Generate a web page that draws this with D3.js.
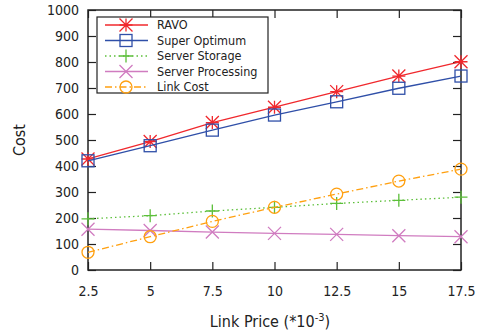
<!DOCTYPE html>
<html>
<head>
<meta charset="utf-8">
<script src="https://cdn.jsdelivr.net/npm/d3@7"></script>
<style>
  body { margin: 0; background: #fff; }
  text { font-family: "DejaVu Sans Condensed", "DejaVu Sans", sans-serif; font-stretch: condensed; fill: #222; }
</style>
</head>
<body>
<div id="chart"></div>
<script>
'use strict';

// the data
var linkPrice = [2.5, 5, 7.5, 10, 12.5, 15, 17.5];
var ravo = [427, 494, 567, 626, 686, 746, 801];
var superOptimum = [420, 478, 538, 596, 647, 699, 746];
var serverStorage = [197, 209, 227, 241, 256, 268, 280];
var serverProcessing = [157, 152, 146, 141, 137, 132, 128];
var linkCost = [68, 128, 187, 241, 292, 342, 388];
var yTicks = [0, 100, 200, 300, 400, 500, 600, 700, 800, 900, 1000];

var series = [
    {name: 'RAVO', values: ravo, color: '#f0282d', dash: null, marker: 'star'},
    {name: 'Super Optimum', values: superOptimum, color: '#2f4fa8', dash: null, marker: 'square'},
    {name: 'Server Storage', values: serverStorage, color: '#5cbf3a', dash: '1.5,3', marker: 'plus'},
    {name: 'Server Processing', values: serverProcessing, color: '#d07cc0', dash: null, marker: 'cross'},
    {name: 'Link Cost', values: linkCost, color: '#ffa010', dash: '7,3,1.5,3', marker: 'circle'}
];

var margin = {top: 10, right: 23, bottom: 65, left: 88},
    width = 484 - margin.left - margin.right,
    height = 335 - margin.top - margin.bottom;

// set the ranges
var x = d3.scaleLinear().domain([2.5, 17.5]).range([0, width]);
var y = d3.scaleLinear().domain([0, 1000]).range([height, 0]);

var svg = d3.select('#chart')
    .append('svg')
    .attr('width', 484)
    .attr('height', 335);

var vis = svg.append('g')
    .attr('transform', 'translate(' + margin.left + ',' + margin.top + ')');

// axes with inward ticks, mirrored on top and right
var axisStyle = function (g) {
    g.select('.domain').remove();
    g.selectAll('.tick line').attr('stroke', '#222').attr('stroke-width', 1.2);
    g.selectAll('.tick text').style('font-size', '14px').attr('fill', '#222');
};

vis.append('g')
    .attr('transform', 'translate(0,' + height + ')')
    .call(d3.axisBottom(x).tickValues(linkPrice).tickFormat(d3.format('')).tickSizeInner(-8).tickPadding(16))
    .call(axisStyle);

vis.append('g')
    .call(d3.axisLeft(y).tickValues(yTicks).tickFormat(d3.format('d')).tickSizeInner(-8).tickPadding(9))
    .call(axisStyle);

vis.append('g')
    .call(d3.axisTop(x).tickValues(linkPrice).tickSizeInner(-8).tickFormat(''))
    .call(axisStyle);

vis.append('g')
    .attr('transform', 'translate(' + width + ',0)')
    .call(d3.axisRight(y).tickValues(yTicks).tickSizeInner(-8).tickFormat(''))
    .call(axisStyle);

// border
vis.append('rect')
    .attr('width', width)
    .attr('height', height)
    .attr('fill', 'none')
    .attr('stroke', '#222')
    .attr('stroke-width', 1.5);

var drawMarker = function (g, type, color) {
    var s = 6.5;
    if (type === 'star') {
        g.append('path').attr('d', 'M' + (-s) + ',0H' + s + 'M0,' + (-s) + 'V' + s +
            'M' + (-s) + ',' + (-s) + 'L' + s + ',' + s + 'M' + (-s) + ',' + s + 'L' + s + ',' + (-s))
            .attr('stroke', color).attr('stroke-width', 1.3).attr('fill', 'none');
    } else if (type === 'square') {
        g.append('rect').attr('x', -6).attr('y', -6).attr('width', 12).attr('height', 12)
            .attr('stroke', color).attr('stroke-width', 1.3).attr('fill', 'none');
    } else if (type === 'plus') {
        g.append('path').attr('d', 'M' + (-s) + ',0H' + s + 'M0,' + (-s) + 'V' + s)
            .attr('stroke', color).attr('stroke-width', 1.3).attr('fill', 'none');
    } else if (type === 'cross') {
        g.append('path').attr('d', 'M' + (-s) + ',' + (-s) + 'L' + s + ',' + s + 'M' + (-s) + ',' + s + 'L' + s + ',' + (-s))
            .attr('stroke', color).attr('stroke-width', 1.3).attr('fill', 'none');
    } else if (type === 'circle') {
        g.append('circle').attr('r', 6)
            .attr('stroke', color).attr('stroke-width', 1.3).attr('fill', 'none');
    }
};

var valueline = d3.line()
    .x(function(d, i) { return x(linkPrice[i]); })
    .y(function(d) { return y(d); });

series.forEach(function (s) {
    vis.append('path')
        .datum(s.values)
        .attr('fill', 'none')
        .attr('stroke', s.color)
        .attr('stroke-width', 1.3)
        .attr('stroke-dasharray', s.dash)
        .attr('d', valueline);
    s.values.forEach(function (v, i) {
        var m = vis.append('g').attr('transform', 'translate(' + x(linkPrice[i]) + ',' + y(v) + ')');
        drawMarker(m, s.marker, s.color);
    });
});

// legend
var legend = vis.append('g').attr('transform', 'translate(9,7)');
legend.append('rect')
    .attr('width', 171)
    .attr('height', 76)
    .attr('fill', '#fff')
    .attr('stroke', '#222')
    .attr('stroke-width', 1.2);

series.forEach(function (s, i) {
    var row = legend.append('g').attr('transform', 'translate(0,' + (8 + i * 15.5) + ')');
    row.append('line')
        .attr('x1', 8).attr('x2', 51)
        .attr('stroke', s.color)
        .attr('stroke-width', 1.3)
        .attr('stroke-dasharray', s.dash);
    drawMarker(row.append('g').attr('transform', 'translate(29,0)'), s.marker, s.color);
    row.append('text')
        .attr('x', 60)
        .attr('dy', '0.35em')
        .style('font-size', '12.5px')
        .text(s.name);
});

// axis labels
svg.append('text')
    .attr('transform', 'translate(25,' + (margin.top + height / 2) + ') rotate(-90)')
    .attr('text-anchor', 'middle')
    .style('font-size', '16px')
    .text('Cost');

var xl = svg.append('text')
    .attr('x', 270)
    .attr('y', 327)
    .attr('text-anchor', 'middle')
    .style('font-size', '16px');
xl.append('tspan').text('Link Price (*10');
xl.append('tspan').attr('dy', -6).style('font-size', '11px').text('-3');
xl.append('tspan').attr('dy', 6).text(')');
</script>
</body>
</html>
